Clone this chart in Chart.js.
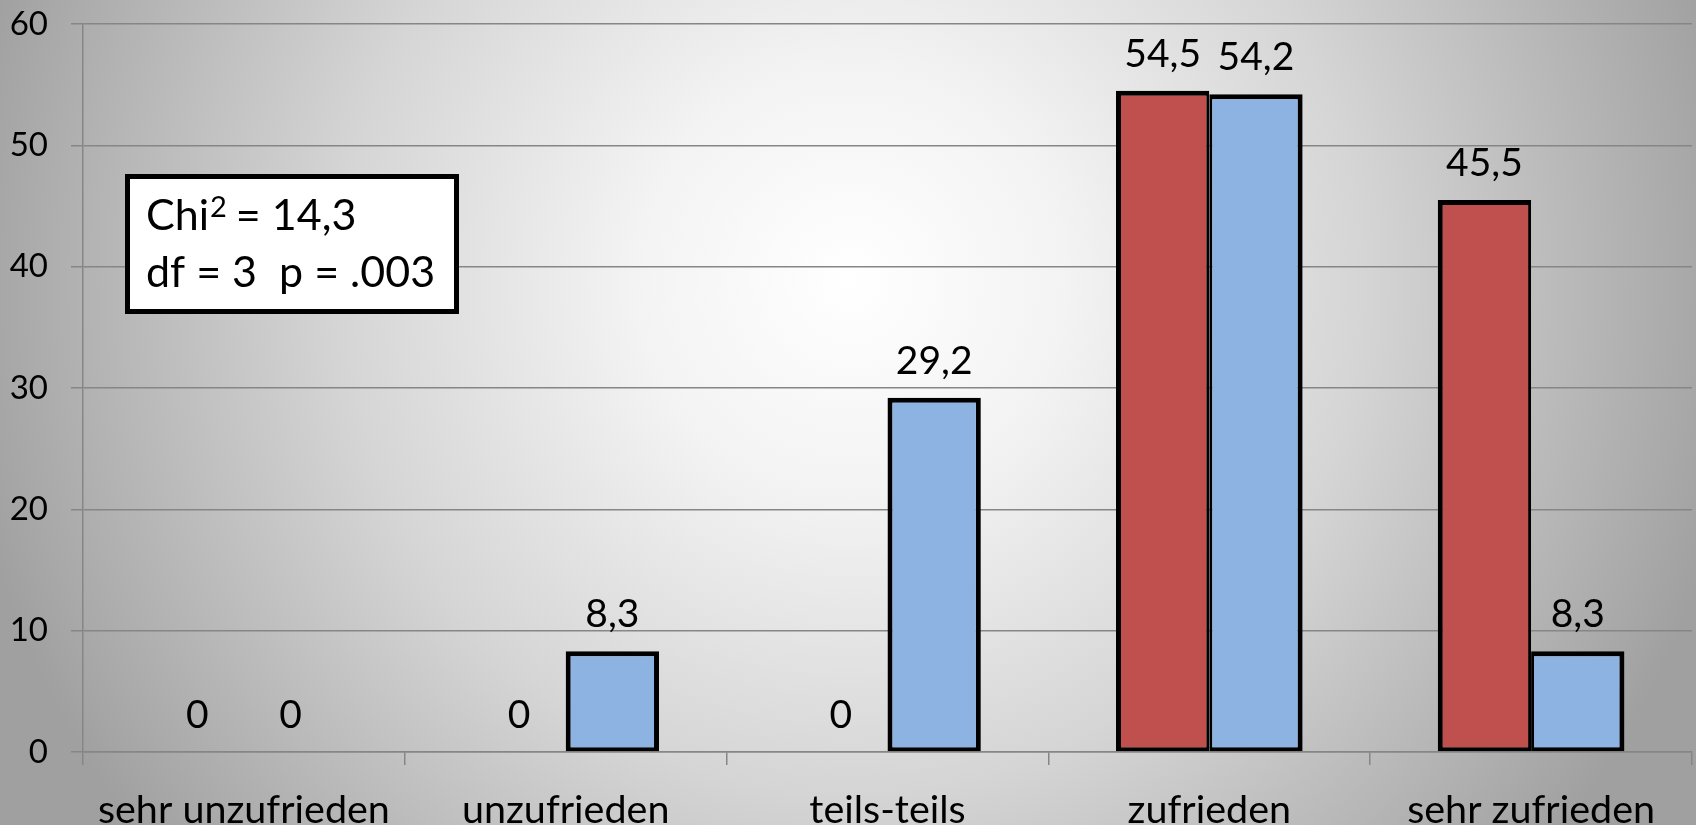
<!DOCTYPE html>
<html>
<head>
<meta charset="utf-8">
<script src="https://cdn.jsdelivr.net/npm/chart.js@4.4.0/dist/chart.umd.min.js"></script>
<style>
    html, body { margin: 0; padding: 0; background: #a8a8a8; overflow: hidden; }
</style>
</head>
<body>
<canvas id="myChart" width="1696" height="825"></canvas>
<script>
const categories = ['sehr unzufrieden', 'unzufrieden', 'teils-teils', 'zufrieden', 'sehr zufrieden']
const redValues = [0, 0, 0, 54.5, 45.5]
const blueValues = [0, 8.3, 29.2, 54.2, 8.3]
const yTicks = [0, 10, 20, 30, 40, 50, 60]
const chiLine = ['Chi', '2', ' = 14,3']
const dfLine = 'df = 3  p = .003'

const FONT = 'Lato'
const GRID = '#868686'

// radial grey background, light spot a bit left of centre
const background = {
    id: 'background',
    beforeDraw(chart) {
        const c = chart.ctx
        const g = c.createRadialGradient(850, 280, 0, 850, 280, 900)
        g.addColorStop(0, '#ffffff')
        g.addColorStop(0.24, '#f3f3f3')
        g.addColorStop(0.57, '#d5d5d5')
        g.addColorStop(0.955, '#a6a6a6')
        g.addColorStop(1, '#a0a0a0')
        c.save()
        c.fillStyle = g
        c.fillRect(0, 0, chart.width, chart.height)
        c.restore()
    }
}

const valueLabels = {
    id: 'valueLabels',
    afterDatasetsDraw(chart) {
        const c = chart.ctx
        c.save()
        c.font = '39px ' + FONT
        c.fillStyle = '#000'
        c.textAlign = 'center'
        c.textBaseline = 'alphabetic'
        chart.data.datasets.forEach((ds, i) => {
            chart.getDatasetMeta(i).data.forEach((bar, j) => {
                c.fillText(String(ds.data[j]).replace('.', ','), bar.x, bar.y - 24)
            })
        })
        c.restore()
    }
}

const statBox = {
    id: 'statBox',
    afterDraw(chart) {
        const c = chart.ctx
        c.save()
        c.fillStyle = '#fff'
        c.fillRect(126, 175, 332, 138)
        c.lineWidth = 5
        c.strokeStyle = '#000'
        c.strokeRect(127.5, 176.5, 329, 135)
        c.fillStyle = '#000'
        c.textBaseline = 'alphabetic'
        c.textAlign = 'left'
        let x = 146
        c.font = '43px ' + FONT
        c.fillText(chiLine[0], x, 230)
        x += c.measureText(chiLine[0]).width + 1
        c.font = '29px ' + FONT
        c.fillText(chiLine[1], x, 217)
        x += c.measureText(chiLine[1]).width - 2
        c.font = '43px ' + FONT
        c.fillText(chiLine[2], x, 230)
        c.fillText(dfLine, 146, 287)
        c.restore()
    }
}

function redBorder(ctx) {
    if (ctx.raw === 0) return 0
    const other = blueValues[ctx.dataIndex]
    return { top: 5, left: 5, bottom: 4, right: other > 0 ? 3 : 5 }
}
function blueBorder(ctx) {
    if (ctx.raw === 0) return 0
    const other = redValues[ctx.dataIndex]
    return { top: 5, right: 5, bottom: 4, left: other > 0 ? 3 : 5 }
}

const ctx = document.getElementById('myChart')
new Chart(ctx, {
    type: 'bar',
    data: {
        labels: categories,
        datasets: [{
            data: redValues,
            backgroundColor: '#C0504D',
            borderColor: '#000',
            borderWidth: redBorder,
            borderSkipped: false
        }, {
            data: blueValues,
            backgroundColor: '#8DB3E2',
            borderColor: '#000',
            borderWidth: blueBorder,
            borderSkipped: false
        }]
    },
    options: {
        responsive: false,
        animation: false,
        devicePixelRatio: 1,
        layout: { padding: { top: 24, right: 4, left: 0, bottom: 0 } },
        datasets: { bar: { categoryPercentage: 0.58, barPercentage: 1 } },
        plugins: { legend: { display: false }, tooltip: { enabled: false } },
        scales: {
            x: {
                afterFit: s => { s.height = 73; s.paddingLeft = 0; s.paddingRight = 0 },
                grid: { drawOnChartArea: false, offset: true, tickLength: 13, color: GRID, lineWidth: 1.5 },
                border: { color: GRID, width: 1.5 },
                ticks: { color: '#000', padding: 22, font: { family: FONT, size: 39.5 } }
            },
            y: {
                min: 0,
                max: 60,
                afterFit: s => { s.width = 83; s.paddingTop = 0; s.paddingBottom = 0 },
                afterBuildTicks: s => { s.ticks = yTicks.map(v => ({ value: v })) },
                grid: { color: GRID, lineWidth: 1.5, tickLength: 12 },
                border: { color: GRID, width: 1.5 },
                ticks: { color: '#000', padding: 23, font: { family: FONT, size: 33 } }
            }
        }
    },
    plugins: [background, valueLabels, statBox]
})
</script>
</body>
</html>
